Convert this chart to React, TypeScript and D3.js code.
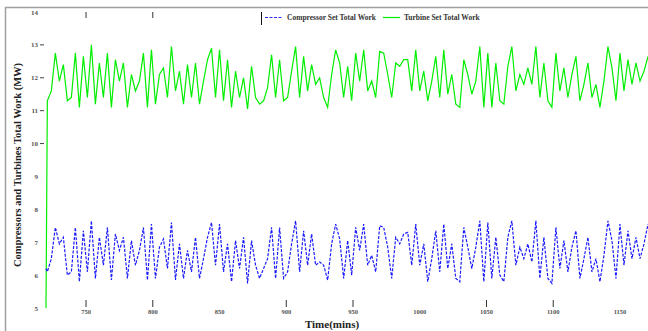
import * as d3 from "d3";
import { useEffect, useRef } from "react";

// first sample at 720 min, then every 3 minutes from 721 min
const startTime = 720;
const sampleStart = 721;
const stepMins = 3;

const turbineWork = [
  5.0,
  11.3, 11.6, 12.75, 11.9, 12.4, 11.3, 11.4, 12.75, 11.1, 12.65, 11.4, 13.0, 11.2, 12.45, 11.4, 12.75, 11.1, 12.55, 11.9, 12.45, 11.1, 12.1, 11.6, 11.9, 12.75, 11.1, 12.85, 11.2, 12.1, 12.3,
  11.4, 12.95, 11.6, 12.2, 11.2, 12.4, 11.4, 12.45, 11.2, 11.9, 12.55, 12.9, 11.4, 12.85, 11.3, 12.55, 11.1, 12.2, 11.4, 12.0, 11.05, 12.35, 11.4, 11.2, 11.3, 11.7, 12.7, 11.4, 12.55, 11.3,
  11.4, 12.2, 12.95, 11.4, 12.65, 11.6, 12.4, 11.8, 12.0, 11.4, 11.1, 12.1, 12.85, 12.45, 11.4, 12.35, 11.3, 12.75, 11.9, 12.85, 11.6, 11.9, 11.4, 12.8, 12.75, 12.1, 11.4, 12.45, 12.35, 12.55,
  12.55, 11.6, 12.85, 11.6, 12.2, 11.3, 11.9, 12.65, 11.4, 12.85, 11.5, 12.1, 11.2, 11.1, 12.55, 12.1, 11.5, 11.9, 12.95, 11.1, 12.75, 11.1, 12.45, 11.3, 11.2, 12.35, 12.95, 11.6, 12.1, 11.8,
  12.3, 11.8, 12.95, 11.4, 12.45, 11.3, 11.1, 12.75, 11.6, 12.3, 11.4, 12.1, 12.65, 11.3, 11.8, 12.45, 11.4, 11.8, 11.1, 11.9, 12.95, 12.3, 11.3, 12.75, 11.6, 12.55, 11.8, 12.45, 11.9, 12.2, 12.65,
];

const compressorWork = [
  6.2,
  6.1, 6.5, 7.45, 6.95, 7.15, 6.0, 6.1, 7.45, 5.8, 7.35, 6.1, 7.65, 5.9, 7.15, 6.3, 7.45, 5.85, 7.25, 6.75, 7.15, 5.9, 7.05, 6.3, 6.75, 7.45, 5.85, 7.55, 5.9, 6.85, 7.1,
  6.2, 7.6, 5.85, 6.95, 5.9, 6.75, 6.1, 7.15, 5.9, 6.5, 7.15, 7.6, 6.3, 7.55, 6.1, 6.95, 5.8, 7.05, 6.2, 7.15, 5.75, 7.05, 6.3, 5.9, 6.2, 6.5, 7.45, 5.9, 7.45, 5.9,
  6.1, 6.95, 7.65, 6.1, 7.35, 6.3, 7.25, 6.3, 6.4, 6.3, 5.85, 6.95, 7.55, 7.1, 5.9, 7.05, 6.0, 7.45, 6.75, 7.55, 6.3, 6.6, 6.1, 7.5, 7.45, 6.85, 5.9, 7.15, 6.95, 7.25,
  7.3, 6.3, 7.55, 6.3, 6.95, 5.8, 6.5, 7.35, 6.1, 7.55, 6.2, 6.95, 5.9, 5.8, 7.45, 6.85, 6.2, 6.85, 7.65, 5.8, 7.6, 5.9, 7.15, 6.0, 5.8, 7.15, 7.65, 6.3, 6.85, 6.5,
  6.95, 6.4, 7.65, 5.9, 7.15, 5.9, 5.75, 7.45, 6.2, 7.05, 6.1, 6.85, 7.35, 5.9, 6.5, 7.15, 6.1, 6.5, 5.8, 6.6, 7.65, 7.05, 5.9, 7.55, 6.3, 7.35, 6.5, 7.15, 6.5, 6.95, 7.55,
];

const yTicks = [5, 6, 7, 8, 9, 10, 11, 12, 13, 14];
const xTicks = [750, 800, 850, 900, 950, 1000, 1050, 1100, 1150];
const xTickMarks = [750, 800, 900, 950, 1050, 1100];
const xTopMarks = [750, 800];

const timeAt = (i: number) => (i === 0 ? startTime : sampleStart + (i - 1) * stepMins);

export default function App() {
  const ref = useRef<SVGSVGElement>(null);

  useEffect(() => {
    if (!ref.current) return;
    const svg = d3.select(ref.current);
    svg.selectAll("*").remove();

    const W = 648;
    const H = 331;
    const font = "'Liberation Serif', 'Times New Roman', serif";

    const x = d3.scaleLinear().domain([720, 1171]).range([46, 648]);
    const y = d3.scaleLinear().domain([5, 14]).range([308, 12]);

    // outer frame (left + top)
    svg.append("line").attr("x1", 5).attr("x2", W).attr("y1", 7.5).attr("y2", 7.5).attr("stroke", "#a0a0a0").attr("stroke-width", 1.5);
    svg.append("line").attr("x1", 5.5).attr("x2", 5.5).attr("y1", 7).attr("y2", H).attr("stroke", "#a0a0a0").attr("stroke-width", 1.5);

    svg.append("defs").append("clipPath").attr("id", "plot-clip")
      .append("rect").attr("x", 44).attr("y", 10).attr("width", W - 44).attr("height", 300);

    // y ticks
    const yg = svg.append("g");
    yg.selectAll("text").data(yTicks).join("text")
      .attr("x", 38).attr("y", d => y(d) + 2.5)
      .attr("text-anchor", "end")
      .attr("font-family", font).attr("font-size", 7).attr("font-weight", 700).attr("fill", "#555")
      .text(d => d);
    yg.selectAll("line").data(yTicks.filter(d => d >= 10 && d <= 13)).join("line")
      .attr("x1", 40).attr("x2", 44).attr("y1", d => y(d)).attr("y2", d => y(d))
      .attr("stroke", "#444").attr("stroke-width", 1);

    // x ticks
    const xg = svg.append("g");
    xg.selectAll("text").data(xTicks).join("text")
      .attr("x", d => x(d)).attr("y", 314)
      .attr("text-anchor", "middle")
      .attr("font-family", font).attr("font-size", 6.5).attr("font-weight", 700).attr("fill", "#555")
      .text(d => d);
    xg.selectAll("line.b").data(xTickMarks).join("line")
      .attr("class", "b")
      .attr("x1", d => x(d)).attr("x2", d => x(d)).attr("y1", 300).attr("y2", 307)
      .attr("stroke", "#333").attr("stroke-width", 1);
    xg.selectAll("line.t").data(xTopMarks).join("line")
      .attr("class", "t")
      .attr("x1", d => x(d)).attr("x2", d => x(d)).attr("y1", 12).attr("y2", 18)
      .attr("stroke", "#333").attr("stroke-width", 1);

    const line = d3.line<number>()
      .x((_, i) => x(timeAt(i)))
      .y(d => y(d));

    const plot = svg.append("g").attr("clip-path", "url(#plot-clip)");
    plot.append("path").datum(turbineWork)
      .attr("d", line).attr("fill", "none")
      .attr("stroke", "#00ee00").attr("stroke-width", 1.2);
    plot.append("path").datum(compressorWork)
      .attr("d", line).attr("fill", "none")
      .attr("stroke", "#1a1aff").attr("stroke-width", 1.2)
      .attr("stroke-dasharray", "3,1.5");

    // axis titles
    svg.append("text")
      .attr("x", 332).attr("y", 328)
      .attr("text-anchor", "middle")
      .attr("font-family", font).attr("font-size", 11).attr("font-weight", 700).attr("fill", "#222")
      .text("Time(mins)");
    svg.append("text")
      .attr("transform", "translate(21,165) rotate(-90)")
      .attr("text-anchor", "middle")
      .attr("font-family", font).attr("font-size", 10.5).attr("font-weight", 700).attr("fill", "#222")
      .text("Compressors and Turbines Total Work (MW)");

    // legend
    const lg = svg.append("g");
    lg.append("line").attr("x1", 261.5).attr("x2", 261.5).attr("y1", 12).attr("y2", 25).attr("stroke", "#111").attr("stroke-width", 1);
    lg.append("line").attr("x1", 265).attr("x2", 283).attr("y1", 17.5).attr("y2", 17.5)
      .attr("stroke", "#3030ff").attr("stroke-width", 1.2).attr("stroke-dasharray", "3,1.5");
    lg.append("text").attr("x", 287).attr("y", 20)
      .attr("font-family", font).attr("font-size", 7.5).attr("font-weight", 700).attr("fill", "#333")
      .text("Compressor Set Total Work");
    lg.append("line").attr("x1", 383).attr("x2", 400).attr("y1", 17.5).attr("y2", 17.5)
      .attr("stroke", "#00ee00").attr("stroke-width", 1.2);
    lg.append("text").attr("x", 404).attr("y", 20)
      .attr("font-family", font).attr("font-size", 7.5).attr("font-weight", 700).attr("fill", "#333")
      .text("Turbine Set Total Work");
  }, []);

  return (
    <div style={{ position: "fixed", left: 0, top: 0, width: 648, height: 331, background: "#fff" }}>
      <svg ref={ref} width={648} height={331} style={{ display: "block" }} />
    </div>
  );
}
